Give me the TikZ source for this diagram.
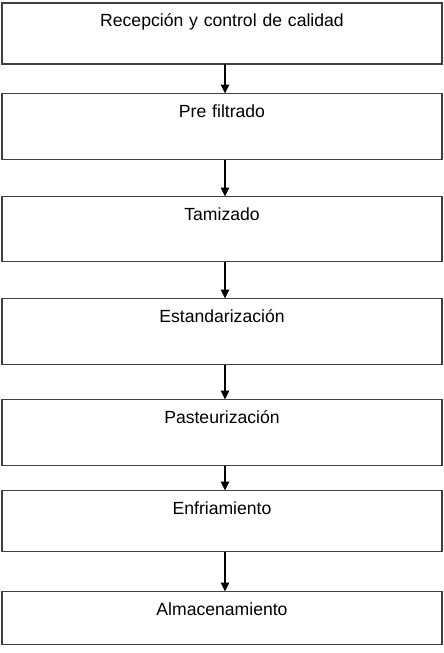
\documentclass[tikz,border=0pt]{standalone}
\usepackage{fontspec}
\setmainfont{Liberation Sans}
\usepackage{tikz}
\usetikzlibrary{positioning,arrows.meta}
\definecolor{bordeGris}{rgb}{0.25,0.25,0.25}

\begin{document}
\begin{tikzpicture}[
  x=1pt,y=-1pt,
  font=\fontsize{17.6}{21}\selectfont,
  node distance=30pt,
  etapa/.style={draw=bordeGris,line width=1.3pt,align=center,inner xsep=0pt,inner ysep=0pt,outer sep=0pt,text width=440pt,text height=23.5pt},
  arr/.style={-{Triangle[length=9pt,width=8.5pt]},line width=1.1pt,black}
]
\useasboundingbox (0,0) rectangle (444,653);
\node[etapa,text depth=37.5pt,anchor=north west] (recep) at (2,3) {Recepción y control de calidad};
\node[etapa,text depth=42.5pt,below=29.5pt of recep] (prefil) {Pre filtrado};
\node[etapa,text depth=41.5pt,below=37pt of prefil] (tamiz) {Tamizado};
\node[etapa,text depth=42.5pt,below=37pt of tamiz] (estand) {Estandarización};
\node[etapa,text depth=42.5pt,below=35pt of estand] (pasteur) {Pasteurización};
\node[etapa,text depth=37.5pt,below=25pt of pasteur] (enfri) {Enfriamiento};
\node[etapa,text depth=29.5pt,below=40pt of enfri] (almac) {Almacenamiento};

\draw[arr] ([xshift=3pt]recep.south)--([xshift=3pt]prefil.north);
\draw[arr] ([xshift=3pt]prefil.south)--([xshift=3pt]tamiz.north);
\draw[arr] ([xshift=3pt]tamiz.south)--([xshift=3pt]estand.north);
\draw[arr] ([xshift=3pt]estand.south)--([xshift=3pt]pasteur.north);
\draw[arr] ([xshift=3pt]pasteur.south)--([xshift=3pt]enfri.north);
\draw[arr] ([xshift=3pt]enfri.south)--([xshift=3pt]almac.north);
\end{tikzpicture}
\end{document}
